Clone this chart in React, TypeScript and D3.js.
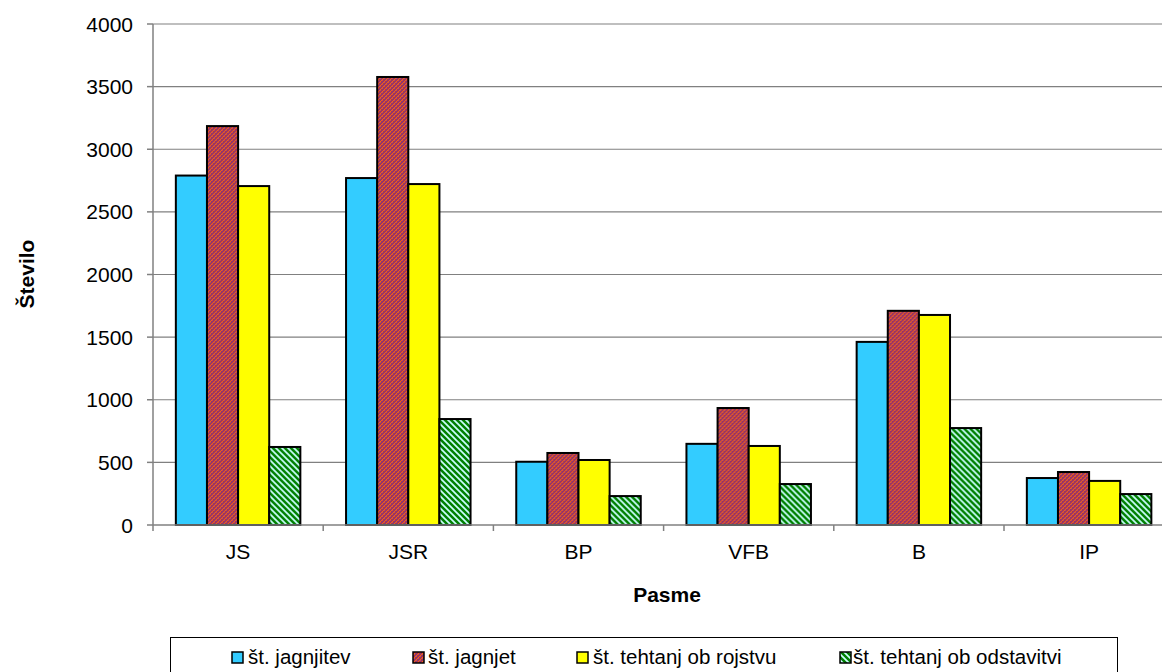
import React from "react";
import * as d3 from "d3";

// Breeds (pasme) along the x axis
const categories = ["JS", "JSR", "BP", "VFB", "B", "IP"];

// Series names, as shown in the legend
const seriesNames = [
  "št. jagnjitev",
  "št. jagnjet",
  "št. tehtanj ob rojstvu",
  "št. tehtanj ob odstavitvi",
];

// Values per breed, one array per series
const jagnjitev = [2790, 2770, 505, 648, 1462, 375];
const jagnjet = [3185, 3577, 575, 934, 1710, 423];
const tehtanjRojstvo = [2706, 2722, 519, 631, 1677, 352];
const tehtanjOdstavitev = [623, 846, 231, 327, 774, 247];

const yTicks = [0, 500, 1000, 1500, 2000, 2500, 3000, 3500, 4000];

const seriesValues = [jagnjitev, jagnjet, tehtanjRojstvo, tehtanjOdstavitev];
const fills = ["#33CCFF", "url(#patRed)", "#FFFF00", "url(#patGreen)"];

const W = 1162;
const H = 672;
const plotLeft = 153;
const plotRight = 1174.2;
const plotTop = 24;
const plotBottom = 525;
const font = "Liberation Sans, Arial, sans-serif";

export default function App() {
  const x = d3
    .scaleBand<string>()
    .domain(categories)
    .range([plotLeft, plotRight])
    .paddingInner(0.2685)
    .paddingOuter(0.13425);
  const xs = d3
    .scaleBand<number>()
    .domain(d3.range(seriesNames.length))
    .range([0, x.bandwidth()]);
  const y = d3.scaleLinear().domain([0, 4000]).range([plotBottom, plotTop]);
  const step = x.step();

  const legendItems = [
    { sq: 232, tx: 248 },
    { sq: 413, tx: 428 },
    { sq: 577, tx: 593 },
    { sq: 840, tx: 853 },
  ];

  return (
    <svg
      width={W}
      height={H}
      style={{ position: "absolute", left: 0, top: 0, background: "#fff" }}
      fontFamily={font}
    >
      <defs>
        <pattern id="patRed" patternUnits="userSpaceOnUse" width="4" height="4">
          <rect width="4" height="4" fill="#993366" />
          <rect x="0" y="3" width="1" height="1" fill="#FF6600" />
          <rect x="1" y="2" width="1" height="1" fill="#F06020" />
          <rect x="2" y="1" width="1" height="1" fill="#FF6600" />
          <rect x="3" y="0" width="1" height="1" fill="#F06020" />
          <rect x="0" y="0" width="1" height="1" fill="#C4504A" />
          <rect x="2" y="2" width="1" height="1" fill="#C4504A" />
        </pattern>
        <pattern id="patGreen" patternUnits="userSpaceOnUse" width="6" height="6">
          <rect width="6" height="6" fill="#008000" />
          <path d="M-1,-1 L7,7 M-4,2 L2,8 M2,-4 L8,2" stroke="#CCFFFF" strokeWidth="1.7" />
        </pattern>
      </defs>

      {/* horizontal gridlines */}
      {yTicks.slice(1).map((t) => (
        <line
          key={t}
          x1={plotLeft}
          x2={W}
          y1={y(t)}
          y2={y(t)}
          stroke="#808080"
          strokeWidth={1.2}
        />
      ))}

      {/* bars */}
      {categories.map((c, ci) => (
        <g key={c} transform={`translate(${x(c)},0)`}>
          {seriesValues.map((vals, si) => (
            <rect
              key={si}
              x={xs(si)}
              y={y(vals[ci])}
              width={xs.bandwidth()}
              height={plotBottom - y(vals[ci])}
              fill={fills[si]}
              stroke="#000"
              strokeWidth={2}
            />
          ))}
        </g>
      ))}

      {/* y axis */}
      <line x1={plotLeft} x2={plotLeft} y1={plotTop} y2={plotBottom} stroke="#808080" strokeWidth={1.5} />
      {yTicks.map((t) => (
        <g key={t}>
          <line x1={plotLeft - 6} x2={plotLeft} y1={y(t)} y2={y(t)} stroke="#808080" strokeWidth={1.5} />
          <text
            x={133}
            y={y(t)}
            dy="0.36em"
            textAnchor="end"
            fontSize={21}
            fill="#000"
          >
            {t}
          </text>
        </g>
      ))}

      {/* x axis */}
      <line x1={plotLeft} x2={W} y1={plotBottom} y2={plotBottom} stroke="#808080" strokeWidth={1.5} />
      {d3.range(categories.length + 1).map((i) => (
        <line
          key={i}
          x1={plotLeft + i * step}
          x2={plotLeft + i * step}
          y1={plotBottom}
          y2={plotBottom + 6}
          stroke="#808080"
          strokeWidth={1.5}
        />
      ))}
      {categories.map((c) => (
        <text
          key={c}
          x={(x(c) as number) + x.bandwidth() / 2}
          y={559}
          textAnchor="middle"
          fontSize={21}
          fill="#000"
        >
          {c}
        </text>
      ))}

      {/* axis titles */}
      <text x={667} y={602} textAnchor="middle" fontSize={21} fontWeight="bold">
        Pasme
      </text>
      <text
        transform={`translate(34,274) rotate(-90)`}
        textAnchor="middle"
        fontSize={21}
        fontWeight="bold"
      >
        Število
      </text>

      {/* legend */}
      <rect x={170.5} y={637.5} width={947} height={60} fill="#fff" stroke="#000" strokeWidth={1} />
      {seriesNames.map((name, i) => (
        <g key={name}>
          <rect
            x={legendItems[i].sq}
            y={652}
            width={11}
            height={11}
            fill={fills[i]}
            stroke="#000"
            strokeWidth={1.5}
          />
          <text x={legendItems[i].tx} y={664} fontSize={20.5} fill="#000">
            {name}
          </text>
        </g>
      ))}
    </svg>
  );
}
